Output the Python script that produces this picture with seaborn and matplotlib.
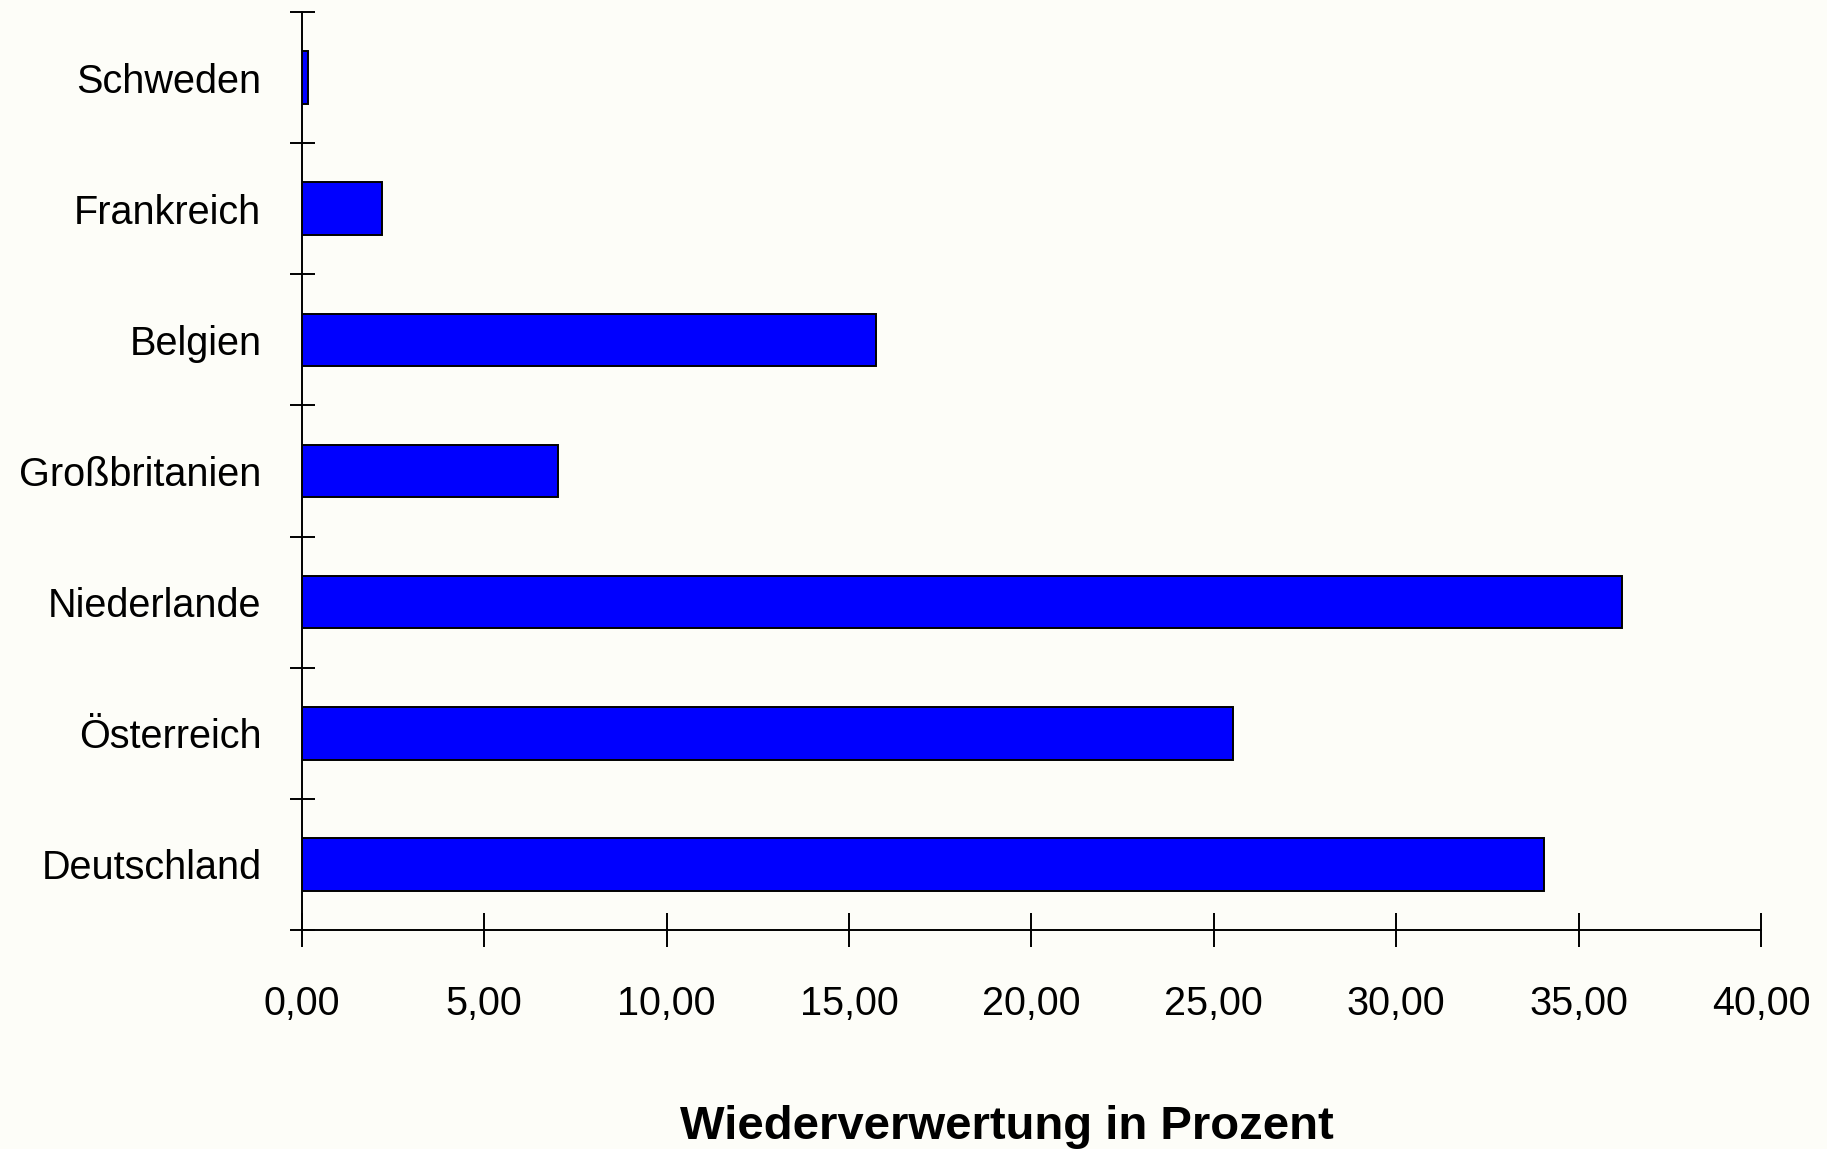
import matplotlib
matplotlib.use("Agg")
import matplotlib.pyplot as plt
import seaborn as sns
import pandas as pd
import numpy as np

# Recycling rates per country
countries = ["Schweden", "Frankreich", "Belgien", "Großbritanien",
             "Niederlande", "Österreich", "Deutschland"]
rates = [0.18, 2.2, 15.74, 7.02, 36.19, 25.54, 34.04]
x_ticks = [0, 5, 10, 15, 20, 25, 30, 35, 40]
x_tick_labels = ["0,00", "5,00", "10,00", "15,00", "20,00",
                 "25,00", "30,00", "35,00", "40,00"]

df = pd.DataFrame({"Land": countries, "Quote": rates})

sns.set_theme(style="white")
plt.rcParams["font.family"] = ["Liberation Sans", "DejaVu Sans"]

bg = "#fdfdf8"
W, H = 1827, 1149
fig = plt.figure(figsize=(W / 100, H / 100), dpi=100, facecolor=bg)
ax = fig.add_axes([301.7 / W, 1 - 930 / H, (1761 - 301.7) / W, (930 - 12) / H])
ax.set_facecolor(bg)

sns.barplot(data=df, x="Quote", y="Land", order=countries, orient="h",
            color="#0000ff", saturation=1, width=0.4,
            edgecolor="black", linewidth=1.4, ax=ax)

ax.set_xlim(0, 40)
ax.set_ylim(len(countries) - 0.5, -0.5)

# Axis frame: only left and bottom
for side in ("top", "right"):
    ax.spines[side].set_visible(False)
for side in ("left", "bottom"):
    ax.spines[side].set_color("black")
    ax.spines[side].set_linewidth(1.4)

# X ticks crossing the axis
ax.set_xticks(x_ticks)
ax.set_xticklabels(x_tick_labels, fontsize=28.5)
ax.tick_params(axis="x", direction="inout", length=25, width=1.4,
               color="black", pad=27, labelcolor="black", bottom=True)

# Y: labels at category centres, crossing ticks at category boundaries
ax.set_yticks(range(len(countries)))
ax.set_yticklabels(countries, fontsize=28.5)
ax.tick_params(axis="y", which="major", length=0, pad=29, labelcolor="black")
ax.set_yticks(np.arange(-0.5, len(countries) + 0.5, 1.0), minor=True)
ax.tick_params(axis="y", which="minor", direction="inout", length=18,
               width=1.4, color="black", left=True)

ax.set_xlabel("")
ax.set_ylabel("")

fig.text(1007 / W, 1 - 1139 / H, "Wiederverwertung in Prozent",
         ha="center", va="baseline", fontsize=34, fontweight="bold",
         color="black")

fig.savefig("out.png", dpi=100, facecolor=bg)
